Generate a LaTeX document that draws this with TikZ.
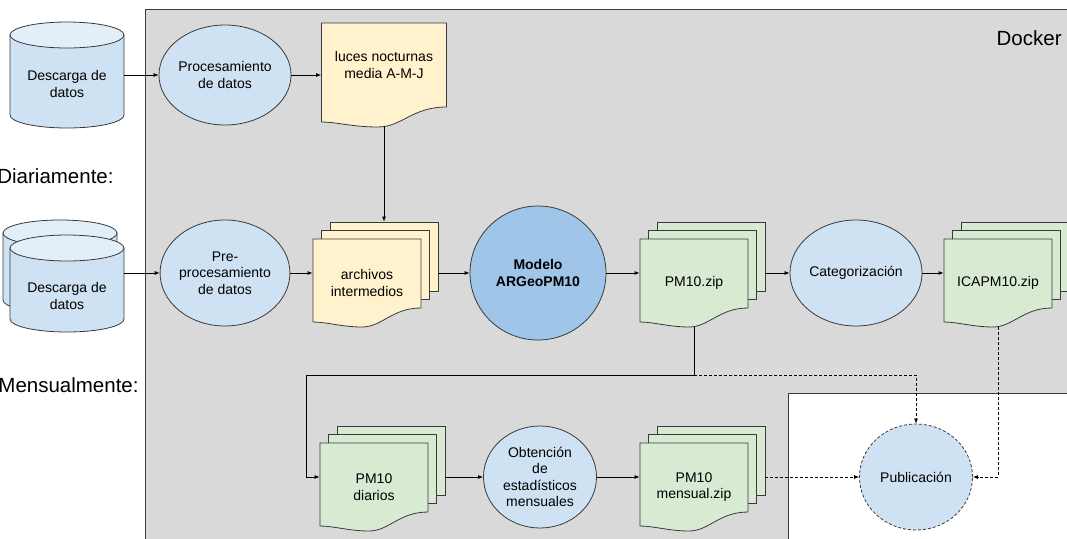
\documentclass[tikz,border=0pt]{standalone}
\usepackage{fontspec}
\setmainfont{Liberation Sans}
\usetikzlibrary{arrows.meta,shapes.geometric}

\definecolor{dockergray}{HTML}{D9D9D9}
\definecolor{procblue}{HTML}{CFE2F3}
\definecolor{modelblue}{HTML}{9FC5E8}
\definecolor{docyellow}{HTML}{FFF2CC}
\definecolor{docgreen}{HTML}{D9EAD3}
\definecolor{edge}{HTML}{3A3A3A}

% stack of three sheets: name, centre of front sheet, fill, text
\newcommand{\docstack}[4]{%
  \begin{scope}[shift={#2}]
    \node[sheet, fill=#3] (#1-back) at (17,-26.5) {};
    \node[sheet, fill=#3] (#1-mid) at (8.5,-18) {};
    \filldraw[fill=#3, draw=edge] (-54,-44) -- (54,-44) -- (54,25)
      .. controls (25,25) and (15,44) .. (-5,44)
      .. controls (-25,44) and (-40,39) .. (-54,39) -- cycle;
    \node[doctext] (#1) at (0,0) {#4};
  \end{scope}
}

% cylinder: left x, centre of top ellipse, centre of bottom ellipse
\newcommand{\dbcyl}[3]{%
  \filldraw[fill=procblue, draw=edge] (#1,#2) -- (#1,#3)
    arc[start angle=180, end angle=0, x radius=57, y radius=13] -- ({#1+114},#2) -- cycle;
  \filldraw[fill=procblue!60!white, draw=edge] ({#1+57},#2) ellipse[x radius=57, y radius=13];
}

\begin{document}
\begin{tikzpicture}[x=1pt, y=-1pt, line width=0.8pt,
  font=\fontsize{14}{16.5}\selectfont,
  big/.style={font=\fontsize{20.5}{24}\selectfont, inner sep=0},
  proc/.style={ellipse, draw=edge, fill=procblue, minimum width=115, minimum height=104, inner sep=0, align=center},
  sheet/.style={rectangle, draw=edge, minimum width=108, minimum height=69, inner sep=0},
  doctext/.style={rectangle, minimum width=108, minimum height=88, inner sep=0, align=center},
  txt/.style={minimum width=114, inner sep=0, align=center},
  line/.style={draw=black, -{Latex[length=5pt,width=4pt]}},
  dashline/.style={dash pattern=on 3pt off 2pt}
]
\useasboundingbox (0,0) rectangle (1067,538);
\clip (0,0) rectangle (1067,538);

% containers
\filldraw[fill=dockergray, draw=edge] (145,9) rectangle (1090,560);
\filldraw[fill=white, draw=edge] (788,393) rectangle (1090,560);
\node[big, anchor=east] (docker) at (1062,38) {Docker};
\node[big, anchor=east] (daily) at (114,176) {Diariamente:};
\node[big, anchor=east] (monthly) at (139,385) {Mensualmente:};

% sources
\dbcyl{10}{35}{115}
\node[txt] (dl1) at (67,84) {Descarga de\\datos};
\dbcyl{3}{233}{300}
\dbcyl{10}{248}{319}
\node[txt] (dl2) at (67,296) {Descarga de\\datos};

% first row
\node[proc, minimum height=100] (proc) at (225,75) {Procesamiento\\de datos};
\filldraw[fill=docyellow, draw=edge] (321.5,23) -- (446.5,23) -- (446.5,107)
  .. controls (412,107) and (402,127) .. (378,127)
  .. controls (352,127) and (337,122) .. (321.5,122) -- cycle;
\node[doctext, minimum width=125, minimum height=84] (luces) at (384,65) {luces nocturnas\\media A-M-J};

% second row
\node[proc, minimum height=106] (prep) at (225,273) {Pre-\\procesamiento\\de datos};
\docstack{arch}{(367,283)}{docyellow}{archivos\\intermedios}
\node[proc, fill=modelblue, minimum width=136, minimum height=134, font=\fontsize{14}{16.5}\selectfont\bfseries] (model) at (538,273) {Modelo\\ARGeoPM10};
\docstack{pm}{(694,283)}{docgreen}{PM10.zip}
\node[proc, minimum height=106] (cat) at (856,273) {Categorización};
\docstack{ica}{(998,283)}{docgreen}{ICAPM10.zip}

% third row
\docstack{diar}{(374,487)}{docgreen}{PM10\\diarios}
\node[proc, minimum width=113, minimum height=102] (obt) at (540,477) {Obtención\\de\\estadísticos\\mensuales};
\docstack{mens}{(694,487)}{docgreen}{PM10\\mensual.zip}
\node[proc, dashline, minimum width=113, minimum height=106] (pub) at (916,477) {Publicación};

\coordinate (split) at (694,375);
\coordinate (bend) at (306,375);

% connectors
\draw[line] (dl1.east |- proc) -- (proc);
\draw[line] (dl2.east |- prep) -- (prep);
\draw[line] (proc) -- (proc -| luces.west);
\draw[line] ([yshift=-19pt]luces.south) -- (arch-back.north);
\draw[line] (prep) -- (prep -| arch.west);
\draw[line] (arch-back.east |- model) -- (model);
\draw[line] (model) -- (model -| pm.west);
\draw[line] (pm-back.east |- cat) -- (cat);
\draw[line] (cat) -- (cat -| ica.west);
\draw[line] (pm.south) -- (split) -- (bend) |- (diar.west |- obt);
\draw[line] (diar-back.east |- obt) -- (obt);
\draw[line] (obt) -- (obt -| mens.west);
\draw[line, dashline] (split) -| (pub);
\draw[line, dashline] (ica.south) |- (pub);
\draw[line, dashline] (mens-back.east |- pub) -- (pub);
\end{tikzpicture}
\end{document}
